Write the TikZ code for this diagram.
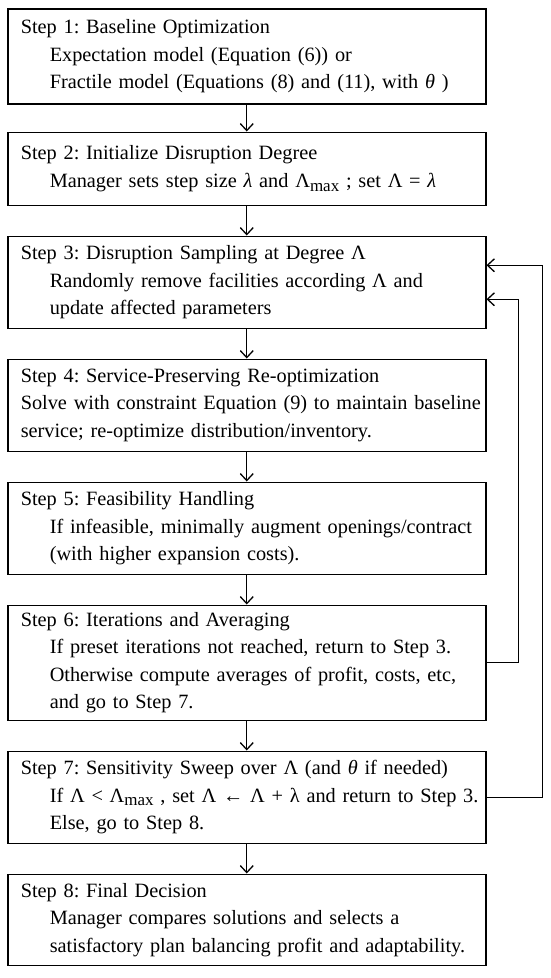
\documentclass[tikz,border=0pt]{standalone}
\usepackage{fontspec}
\setmainfont{Liberation Serif}
\usetikzlibrary{positioning,arrows.meta}
\newcommand{\ttl}[1]{\mbox{#1}}
\newcommand{\bdy}[1]{\mbox{\hspace*{29pt}#1}}
\newcommand{\lowmax}{\raisebox{-0.4ex}{\fontsize{17}{17}\selectfont max}}

\begin{document}
\frenchspacing
\begin{tikzpicture}[x=1pt,y=1pt,
  stepbox/.style={draw, line width=1.5pt, text width=452pt, inner xsep=13pt, inner ysep=0pt,
    align=left, font=\fontsize{20.3}{27.5}\selectfont, minimum height=#1},
  stepbox/.default=92pt,
  flow/.style={line width=1.3pt, -{Straight Barb[length=7pt,width=13pt,line width=1.3pt]}}]
\useasboundingbox (0,0) rectangle (550,-978);

\node[stepbox=95pt, anchor=north west] (s1) at (7,-8)
  {\ttl{Step 1: Baseline Optimization}\\
   \bdy{Expectation model (Equation (6)) or}\\
   \bdy{Fractile model (Equations (8) and (11), with \textit{θ} )}};
\node[stepbox=73pt, below=27pt of s1] (s2)
  {\ttl{Step 2: Initialize Disruption Degree}\\
   \bdy{Manager sets step size \textit{λ} and Λ\lowmax\ ; set Λ = \textit{λ}}};
\node[stepbox, below=29.5pt of s2] (s3)
  {\ttl{Step 3: Disruption Sampling at Degree Λ}\\
   \bdy{Randomly remove facilities according Λ and}\\
   \bdy{update affected parameters}};
\node[stepbox, below=29.5pt of s3] (s4)
  {\ttl{Step 4: Service-Preserving Re-optimization}\\
   \ttl{Solve with constraint Equation (9) to maintain baseline}\\
   \ttl{service; re-optimize distribution/inventory.}};
\node[stepbox, below=29.5pt of s4] (s5)
  {\ttl{Step 5: Feasibility Handling}\\
   \bdy{If infeasible, minimally augment openings/contract}\\
   \bdy{(with higher expansion costs).}};
\node[stepbox=115pt, below=29.5pt of s5] (s6)
  {\ttl{Step 6: Iterations and Averaging}\\
   \bdy{If preset iterations not reached, return to Step 3.}\\
   \bdy{Otherwise compute averages of profit, costs, etc,}\\
   \bdy{and go to Step 7.}};
\node[stepbox, below=29.5pt of s6] (s7)
  {\ttl{Step 7: Sensitivity Sweep over Λ (and \textit{θ} if needed)}\\
   \bdy{If Λ < Λ\lowmax\ , set Λ ← Λ + λ and return to Step 3.}\\
   \bdy{Else, go to Step 8.}};
\node[stepbox=91pt, below=29.5pt of s7] (s8)
  {\ttl{Step 8: Final Decision}\\
   \bdy{Manager compares solutions and selects a}\\
   \bdy{satisfactory plan balancing profit and adaptability.}};

\draw[flow] (s1) -- (s2);
\draw[flow] (s2) -- (s3);
\draw[flow] (s3) -- (s4);
\draw[flow] (s4) -- (s5);
\draw[flow] (s5) -- (s6);
\draw[flow] (s6) -- (s7);
\draw[flow] (s7) -- (s8);

\draw[flow] (s6.east) -- ++(32,0) |- ([yshift=-17pt]s3.east);
\draw[flow] (s7.east) -- ++(56,0) |- ([yshift=17pt]s3.east);
\end{tikzpicture}
\end{document}
